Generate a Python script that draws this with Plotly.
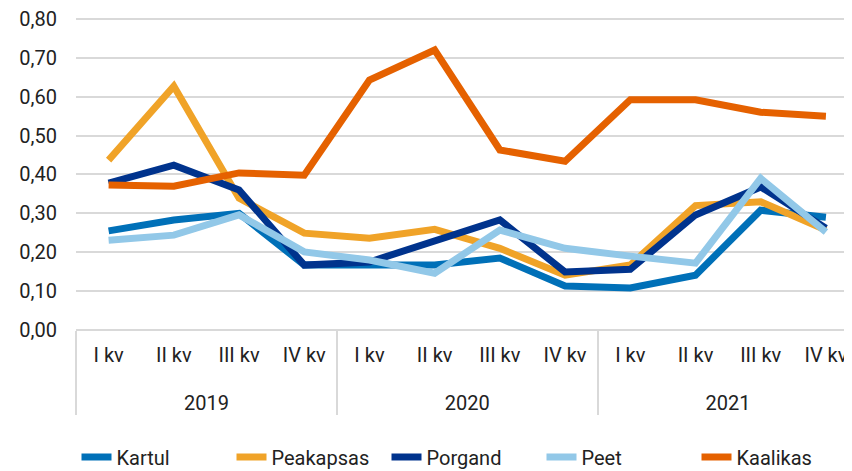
import plotly.graph_objects as go

years = ["2019"] * 4 + ["2020"] * 4 + ["2021"] * 4
quarters = ["I kv", "II kv", "III kv", "IV kv"] * 3
y_ticks = [0.0, 0.1, 0.2, 0.3, 0.4, 0.5, 0.6, 0.7, 0.8]
y_ticklabels = ["0,00", "0,10", "0,20", "0,30", "0,40", "0,50", "0,60", "0,70", "0,80"]

kartul = [0.255, 0.283, 0.300, 0.167, 0.167, 0.167, 0.185, 0.113, 0.108, 0.141, 0.308, 0.290]
peakapsas = [0.437, 0.627, 0.339, 0.249, 0.236, 0.259, 0.210, 0.141, 0.167, 0.320, 0.330, 0.257]
porgand = [0.378, 0.424, 0.360, 0.167, 0.175, 0.230, 0.283, 0.149, 0.156, 0.296, 0.368, 0.262]
peet = [0.231, 0.244, 0.296, 0.201, 0.180, 0.146, 0.257, 0.210, 0.190, 0.172, 0.390, 0.252]
kaalikas = [0.373, 0.370, 0.404, 0.398, 0.643, 0.720, 0.463, 0.434, 0.592, 0.592, 0.560, 0.550]

series = [
    ("Kartul", kartul, "#0070B8"),
    ("Peakapsas", peakapsas, "#F0A328"),
    ("Porgand", porgand, "#00338D"),
    ("Peet", peet, "#92C8E8"),
    ("Kaalikas", kaalikas, "#E56100"),
]

font_family = "Roboto, sans-serif"

# x tick text is drawn at 20px inside a larger tick font so the year row sits lower
span = '<span style="font-size:20px">{}</span>'
year_labels = ["<br>" + span.format(y) for y in years]
quarter_labels = [span.format(q) for q in quarters]

fig = go.Figure()
for name, vals, color in series:
    fig.add_trace(go.Scatter(
        x=[year_labels, quarter_labels], y=vals, name=name, mode="lines",
        line=dict(color=color, width=7),
    ))

# page body has an 8px margin, so the figure is offset to compensate
fig.update_layout(
    width=844, height=485,
    margin=dict(l=68, r=0, t=9, b=163),
    paper_bgcolor="white", plot_bgcolor="white",
    font=dict(family=font_family, size=20, color="#222222"),
    showlegend=True,
    legend=dict(orientation="h", x=0.5, xanchor="center", y=-0.406, yanchor="middle",
                font=dict(size=20, color="#222222"),
                entrywidthmode="pixels", entrywidth=110,
                tracegroupgap=0),
)
fig.update_yaxes(range=[0, 0.805], tickvals=y_ticks, ticktext=y_ticklabels,
                 showgrid=True, gridcolor="#d9d9d9", gridwidth=1.5,
                 zeroline=True, zerolinecolor="#d9d9d9", zerolinewidth=1.5,
                 ticks="", ticklabelstandoff=18, showline=False,
                 ticklabeloverflow="allow")
fig.update_xaxes(range=[-0.5, 11.4], showgrid=False, ticks="",
                 showdividers=True, dividercolor="#d9d9d9", dividerwidth=1.5,
                 showline=False, tickfont=dict(size=23), ticklabelstandoff=8)

fig.write_html("out.html")
